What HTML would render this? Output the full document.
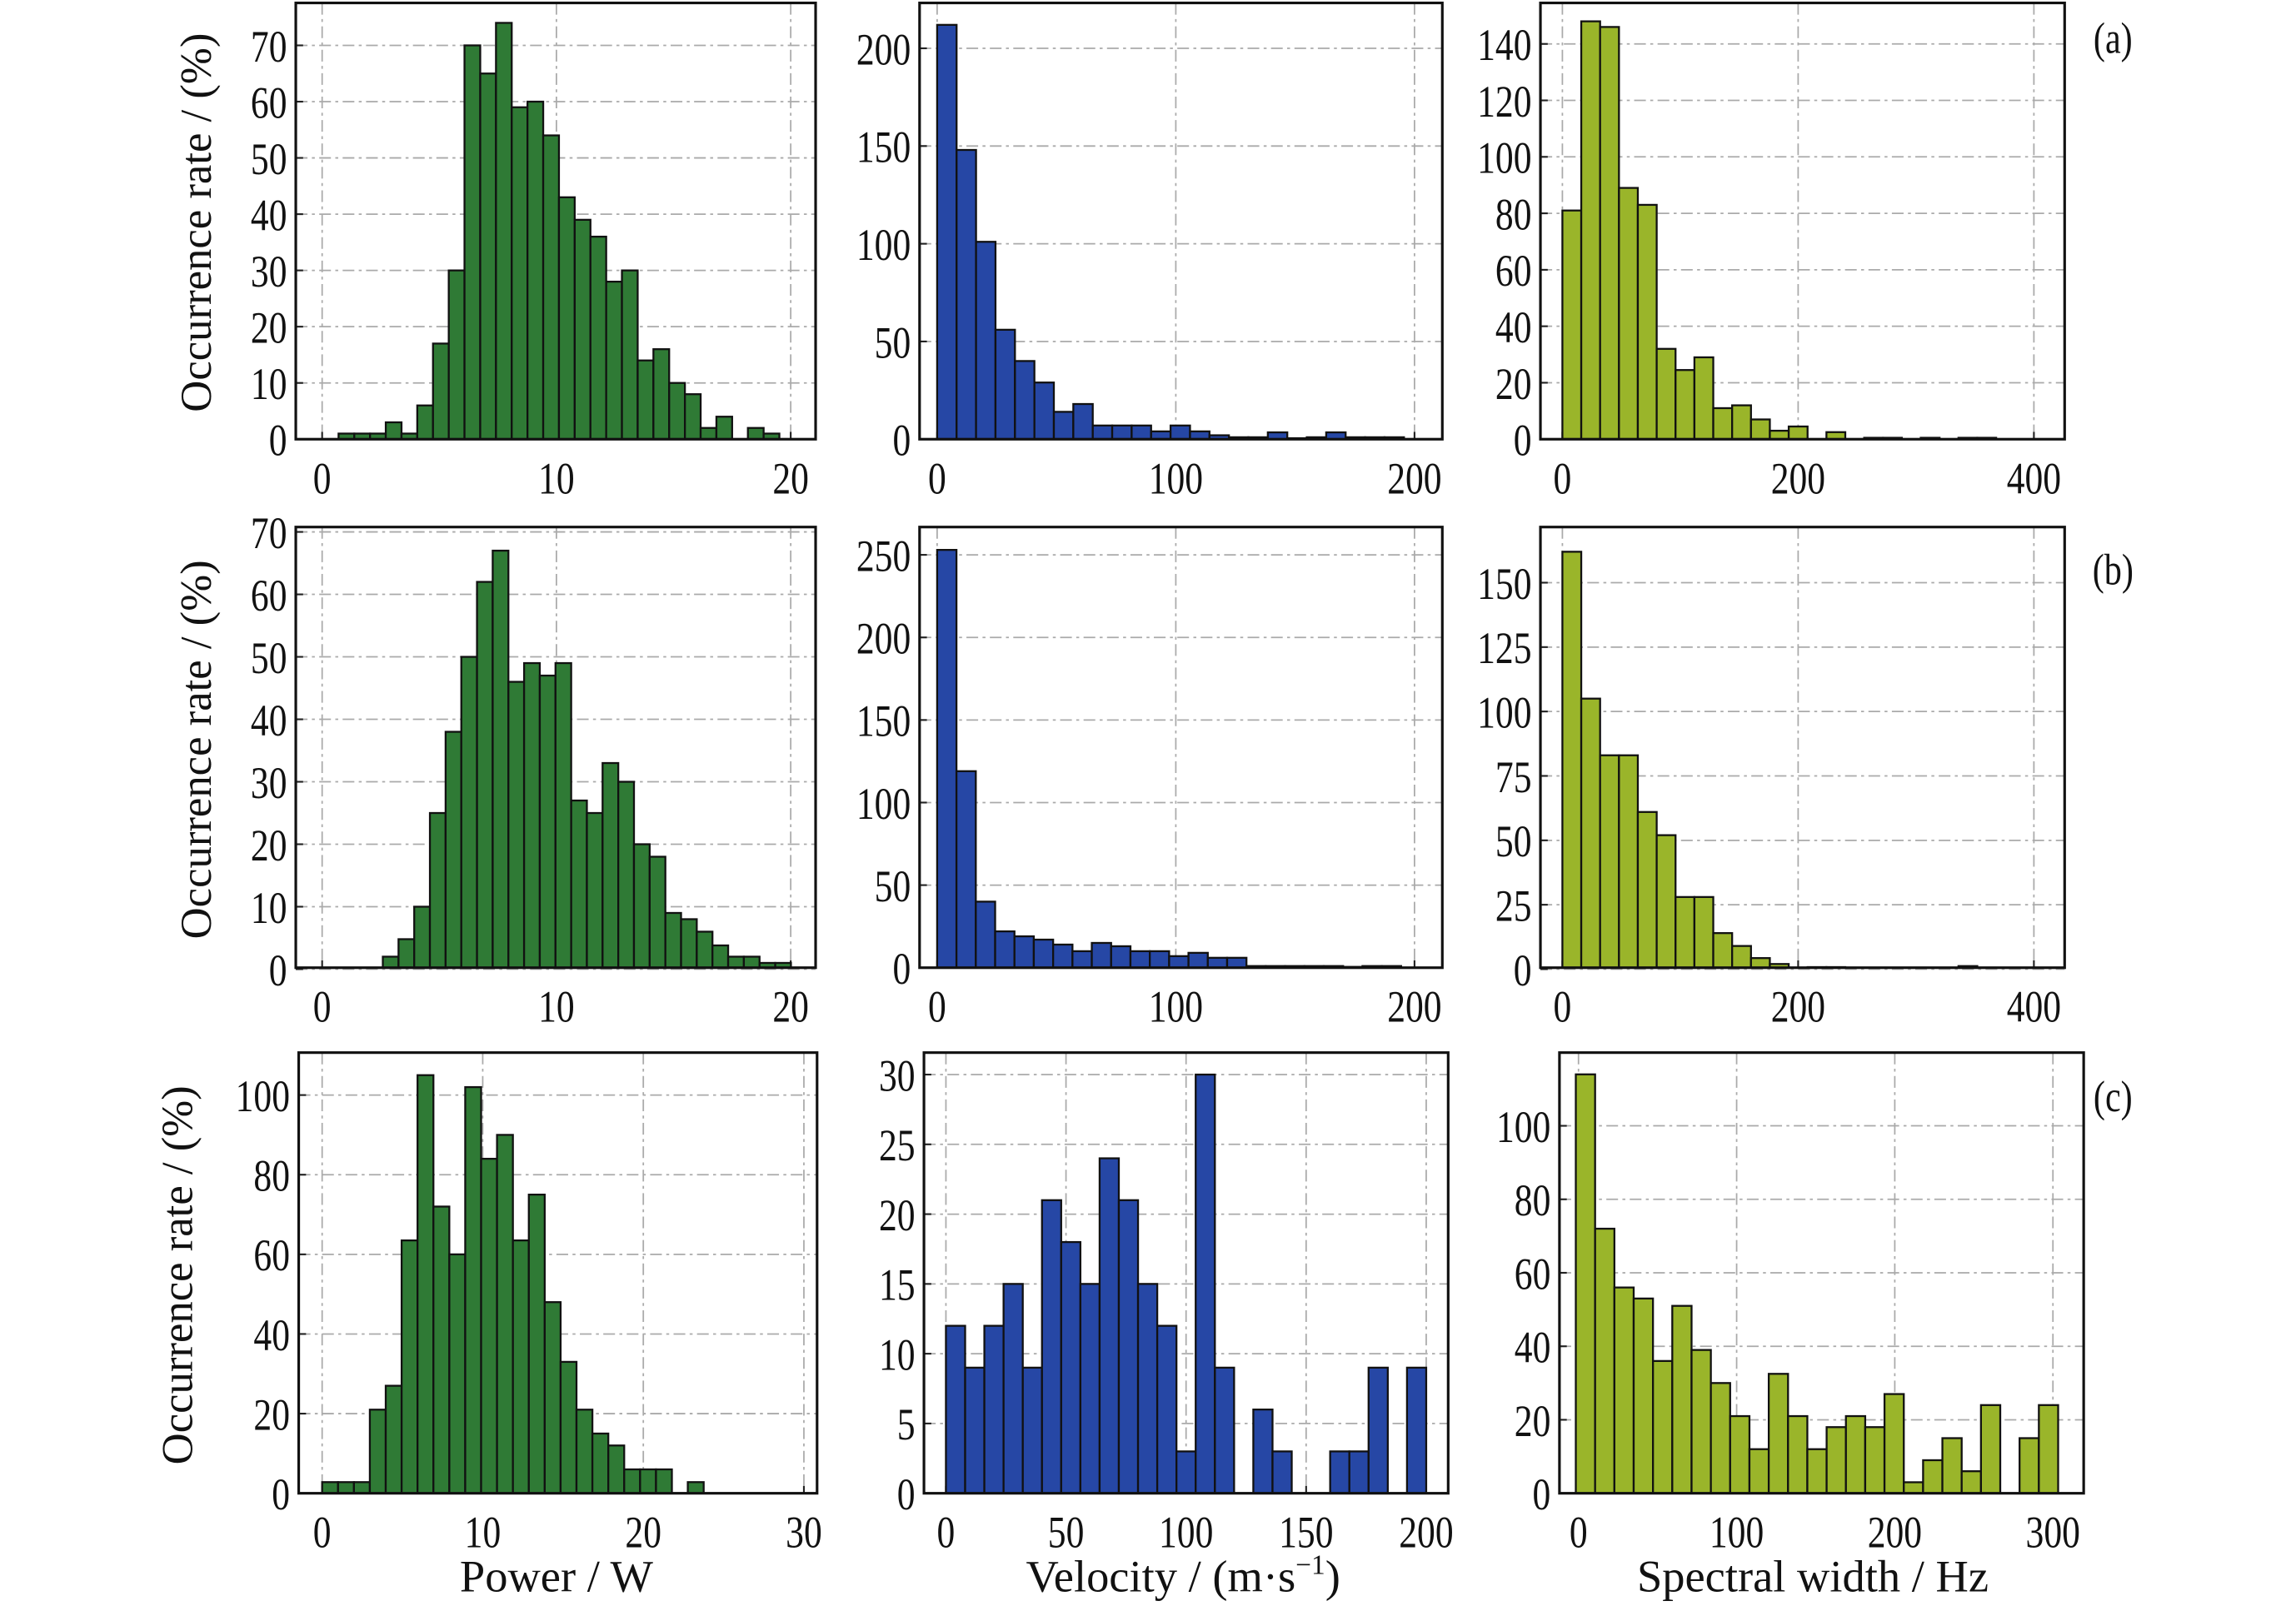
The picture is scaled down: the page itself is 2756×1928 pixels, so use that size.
<!DOCTYPE html>
<html><head><meta charset="utf-8">
<style>html,body{margin:0;padding:0;background:#fff}svg{display:block}</style>
</head><body>
<svg id="s" width="2756" height="1928" viewBox="0 0 1568 1097" preserveAspectRatio="none" xmlns="http://www.w3.org/2000/svg" font-family="Liberation Serif, serif">
</svg>
<script>
const G='#2f7a35',B='#2647a5',O='#9ab52a';
const P=[
{L:202,R:557,T:2,Bt:300,x0:[0,220],x1:[20,540],y0:[0,300],y1:[70,31],xt:[0,10,20],yt:[0,10,20,30,40,50,60,70],c:G,s:0.7,w:0.672,
 h:[1,1,1,3,1,6,17,30,70,65,74,59,60,54,43,39,36,28,30,14,16,10,8,2,4,0,2,1]},
{L:628,R:985,T:2,Bt:300,x0:[0,640],x1:[200,966],y0:[0,300],y1:[200,33],xt:[0,100,200],yt:[0,50,100,150,200],c:B,s:0,w:8.15,
 h:[212,148,101,56,40,29,14,18,7,7,7,4,7,4,2,1,1,3.5,0.5,1,3.5,1,1,1]},
{L:1052,R:1410,T:2,Bt:300,x0:[0,1067],x1:[400,1389],y0:[0,300],y1:[140,30],xt:[0,200,400],yt:[0,20,40,60,80,100,120,140],c:O,s:0,w:16,
 h:[81,148,146,89,83,32,24.5,29,11,12,7,3,4.5,0,2.5,0,0.5,0.5,0,0.5,0,0.5,0.5,0,0]},
{L:202,R:557,T:360,Bt:661,x0:[0,220],x1:[20,540],y0:[0,662],y1:[60,406],xt:[0,10,20],yt:[0,10,20,30,40,50,60,70],c:G,s:2.59,w:0.67,
 h:[2,4.8,10,25,38,50,62,67,46,49,47,49,27,25,33,30,20,18,9,8,6,3.8,2,2,1,1]},
{L:628,R:985,T:360,Bt:661,x0:[0,640],x1:[200,966],y0:[0,661],y1:[250,379],xt:[0,100,200],yt:[0,50,100,150,200,250],c:B,s:0,w:8.1,
 h:[253,119,40,22,19,17,14,10,15,13,10,10,7,9,6,6,1,1,1,1,1,0.5,1,1]},
{L:1052,R:1410,T:360,Bt:661,x0:[0,1067],x1:[400,1389],y0:[0,662],y1:[150,398],xt:[0,200,400],yt:[0,25,50,75,100,125,150],c:O,s:0,w:16,
 h:[162,105,83,83,61,52,28,28,14,9,4.3,2,0.6,0.8,0.8,0.3,0.3,0.3,0.3,0.3,0.3,1.2,0.3,0.3,0.3]},
{L:204,R:558,T:719,Bt:1020,x0:[0,220],x1:[30,549],y0:[0,1020],y1:[100,748],xt:[0,10,20,30],yt:[0,20,40,60,80,100],c:G,s:0,w:0.99,
 h:[2.8,2.8,2.8,21,27,63.5,105,72,60,102,84,90,63.5,75,48,33,21,15,12,6,6,6,0,2.8]},
{L:631,R:989,T:719,Bt:1020,x0:[0,646],x1:[200,974],y0:[0,1020],y1:[30,734],xt:[0,50,100,150,200],yt:[0,5,10,15,20,25,30],c:B,s:0,w:8,
 h:[12,9,12,15,9,21,18,15,24,21,15,12,3,30,9,0,6,3,0,0,3,3,9,0,9]},
{L:1065,R:1423,T:719,Bt:1020,x0:[0,1078],x1:[300,1402],y0:[0,1020],y1:[100,769],xt:[0,100,200,300],yt:[0,20,40,60,80,100],c:O,s:-1.7,w:12.2,
 h:[114,72,56,53,36,51,39,30,21,12,32.5,21,12,18,21,18,27,3,9,15,6,24,0,15,24]}
];
const T=(x,y,s,a,t)=>`<g transform="translate(${x},${y}) scale(0.8,1)"><text x="0" y="0" font-size="${s}" text-anchor="${a}" fill="#111">${t}</text></g>`;
let o='';
for(const p of P){
 const X=v=>p.x0[1]+(v-p.x0[0])*(p.x1[1]-p.x0[1])/(p.x1[0]-p.x0[0]);
 const Y=v=>p.y0[1]+(v-p.y0[0])*(p.y1[1]-p.y0[1])/(p.y1[0]-p.y0[0]);
 for(const t of p.yt){const y=Y(t);o+=`<line x1="${p.L}" x2="${p.R}" y1="${y}" y2="${y}" stroke="#aaa" stroke-width="1" stroke-dasharray="8,3,2,3"/>`;
  o+=`<line x1="${p.L}" x2="${p.L+5}" y1="${y}" y2="${y}" stroke="#222" stroke-width="1.2"/>`;
  o+=T(p.L-6,y+11,31,'end',t);}
 for(const t of p.xt){const x=X(t);o+=`<line x1="${x}" x2="${x}" y1="${p.T}" y2="${p.Bt}" stroke="#aaa" stroke-width="1" stroke-dasharray="8,3,2,3"/>`;
  o+=`<line x1="${x}" x2="${x}" y1="${p.Bt}" y2="${p.Bt-5}" stroke="#222" stroke-width="1.2"/>`;
  o+=T(x,p.Bt+37,31,'middle',t);}
 p.h.forEach((h,i)=>{if(h<=0)return;const a=X(p.s+i*p.w),b=X(p.s+(i+1)*p.w),y=Y(h);
  o+=`<rect x="${a}" y="${y}" width="${b-a}" height="${p.Bt-y}" fill="${p.c}" stroke="#111" stroke-width="1.3"/>`;});
 o+=`<rect x="${p.L}" y="${p.T}" width="${p.R-p.L}" height="${p.Bt-p.T}" fill="none" stroke="#111" stroke-width="1.8"/>`;
}
o+=`<text transform="translate(144,152) rotate(-90)" font-size="30" text-anchor="middle" fill="#111">Occurrence rate / (%)</text>`;
o+=`<text transform="translate(144,512) rotate(-90)" font-size="30" text-anchor="middle" fill="#111">Occurrence rate / (%)</text>`;
o+=`<text transform="translate(131,871) rotate(-90)" font-size="30" text-anchor="middle" fill="#111">Occurrence rate / (%)</text>`;
o+=`<text x="380" y="1087" font-size="31" text-anchor="middle" fill="#111">Power / W</text>`;
o+=`<text x="808" y="1087" font-size="31" text-anchor="middle" fill="#111">Velocity / (m·s<tspan font-size="19" dy="-12">−1</tspan><tspan dy="12">)</tspan></text>`;
o+=`<text x="1238" y="1087" font-size="31" text-anchor="middle" fill="#111">Spectral width / Hz</text>`;
o+=T(1443,36,30,'middle','(a)');
o+=T(1443,399,30,'middle','(b)');
o+=T(1443,759,30,'middle','(c)');
document.getElementById('s').innerHTML=o;
</script>
</body></html>
